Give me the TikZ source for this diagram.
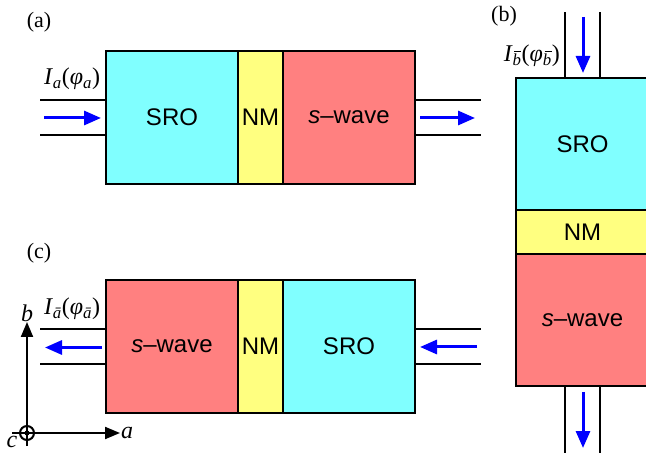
\documentclass[tikz,border=0pt]{standalone}
\usepackage{fontspec}
\setmainfont{Liberation Serif}
\setsansfont{Liberation Sans}
\usepackage{tikz}
\usetikzlibrary{arrows.meta, positioning, calc}
\definecolor{cSRO}{RGB}{128,255,255}
\definecolor{cNM}{RGB}{255,255,128}
\definecolor{cWave}{RGB}{255,128,128}
\newcommand{\curlbl}[1]{\textit{I}\textsubscript{\textit{#1}}(\textit{φ}\textsubscript{\textit{#1}})}
\newcommand{\bbar}{\ooalign{b\cr\hidewidth\kern0.12em\rule[0.8em]{0.42em}{0.06em}\hidewidth}}
\tikzset{
	layer/.style    ={rectangle, draw=black, line width=2.6pt, inner sep=0pt, outer sep=0pt, align=center, font=\sffamily\fontsize{24}{28}\selectfont},
	sro/.style      ={layer, fill=cSRO},
	nm/.style       ={layer, fill=cNM},
	swave/.style    ={layer, fill=cWave},
	% sizes of the layers, lying and standing
	hthick/.style   ={minimum width=132pt, minimum height=133pt},
	hthin/.style    ={minimum width=45pt, minimum height=133pt},
	vthick/.style   ={minimum width=133pt, minimum height=132pt},
	vthin/.style    ={minimum width=133pt, minimum height=44pt},
	lead/.style     ={line width=2.6pt},
	current/.style  ={-{Triangle[length=17pt, width=14pt]}, line width=3pt, blue},
	axis/.style     ={-{Triangle[length=15pt, width=12pt]}, line width=2pt},
	tag/.style      ={font=\fontsize{22}{26}\selectfont},
	lbl/.style      ={font=\fontsize{24}{28}\selectfont, inner sep=0pt},
}
\begin{document}
\begin{tikzpicture}[x=1pt, y=-1pt]
	\useasboundingbox (0,0) rectangle (646,457);
	% (a)
	\node[sro, hthick] (sroA) at (172,117.5) {SRO};
	\node[nm, hthin, right=0pt of sroA] (nmA) {NM};
	\node[swave, hthick, right=0pt of nmA] (swA) {\textit{s}–wave};
	\draw[lead] ($(sroA.west)+(0,-17.5)$) -- ++(-66,0);
	\draw[lead] ($(sroA.west)+(0,17.5)$) -- ++(-66,0);
	\draw[lead] ($(swA.east)+(0,-17.5)$) -- ++(66,0);
	\draw[lead] ($(swA.east)+(0,17.5)$) -- ++(66,0);
	\draw[current] ($(sroA.west)+(-62,0.5)$) -- ++(57,0);
	\draw[current] ($(swA.east)+(5,0.5)$) -- ++(55,0);
	\node[tag] (tagA) at (39,22) {(a)};
	\node[lbl] (curA) at (72,79) {\curlbl{a}};
	% (b)
	\node[sro, vthick] (sroB) at (582.5,144) {SRO};
	\node[nm, vthin, below=0pt of sroB] (nmB) {NM};
	\node[swave, vthick, below=0pt of nmB] (swB) {\textit{s}–wave};
	\draw[lead] ($(sroB.north)+(-17.5,0)$) -- ++(0,-66);
	\draw[lead] ($(sroB.north)+(17.5,0)$) -- ++(0,-66);
	\draw[lead] ($(swB.south)+(-17.5,0)$) -- ++(0,67);
	\draw[lead] ($(swB.south)+(17.5,0)$) -- ++(0,67);
	\draw[current] ($(sroB.north)+(0.5,-61)$) -- ++(0,56);
	\draw[current] ($(swB.south)+(0.5,6)$) -- ++(0,56);
	\node[tag] (tagB) at (504,16) {(b)};
	\node[lbl, anchor=east] (curB) at (560,56) {\curlbl{\bbar}};
	% (c)
	\node[swave, hthick] (swC) at (172,346.5) {\textit{s}–wave};
	\node[nm, hthin, right=0pt of swC] (nmC) {NM};
	\node[sro, hthick, right=0pt of nmC] (sroC) {SRO};
	\draw[lead] ($(swC.west)+(0,-17.5)$) -- ++(-66,0);
	\draw[lead] ($(swC.west)+(0,17.5)$) -- ++(-66,0);
	\draw[lead] ($(sroC.east)+(0,-17.5)$) -- ++(66,0);
	\draw[lead] ($(sroC.east)+(0,17.5)$) -- ++(66,0);
	\draw[current] ($(swC.west)+(-4,1)$) -- ++(-57,0);
	\draw[current] ($(sroC.east)+(62,0.5)$) -- ++(-57,0);
	\node[tag] (tagC) at (39,253) {(c)};
	\node[lbl] (curC) at (72,309) {\curlbl{\=a}};
	% crystal axes
	\coordinate (o) at (27,433);
	\coordinate (aTip) at (120,433);
	\coordinate (bTip) at (27,322);
	\draw[axis] (12,433) -- (aTip);
	\draw[axis] (27,446) -- (bTip);
	\draw[line width=2pt] (o) circle (7pt);
	\fill (o) circle (2.5pt);
	\node[lbl, anchor=west, inner sep=1pt] (axA) at (aTip) {\textit{a}};
	\node[lbl, anchor=south, inner sep=0pt] (axB) at (bTip) {\textit{b}};
	\node[lbl] (axC) at (12,442) {\textit{c}};
\end{tikzpicture}
\end{document}
